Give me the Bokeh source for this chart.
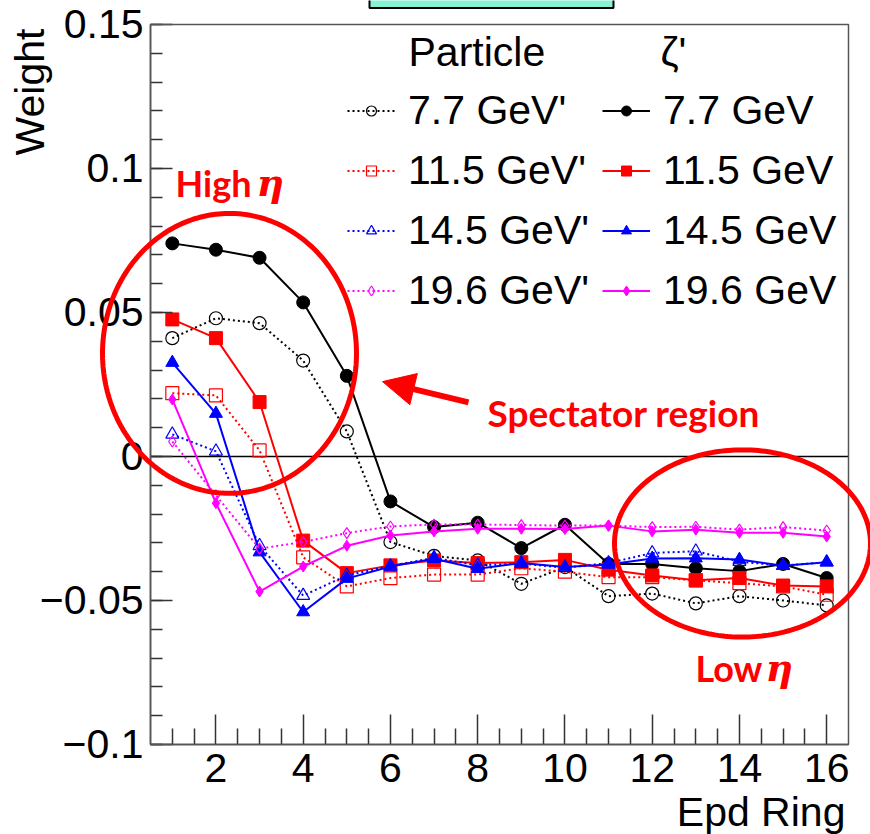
import numpy as np
from bokeh.plotting import figure
from bokeh.models import (Range1d, FixedTicker, Label, Legend, LegendItem,
                          PolyAnnotation, Arrow, NormalHead)
from bokeh.embed import file_html
from bokeh.resources import INLINE

# ---------------- data ----------------
rings = list(range(1, 17))

w77_zeta = [0.0740, 0.0718, 0.0690, 0.0535, 0.0280, -0.0156, -0.0245, -0.0230,
            -0.0318, -0.0237, -0.0373, -0.0373, -0.0388, -0.0398, -0.0373, -0.0422]
w77_part = [0.0411, 0.0480, 0.0463, 0.0333, 0.0087, -0.0297, -0.0345, -0.0361,
            -0.0442, -0.0384, -0.0485, -0.0476, -0.0510, -0.0485, -0.0500, -0.0517]
w115_zeta = [0.0476, 0.0411, 0.0189, -0.0292, -0.0405, -0.0378, -0.0361, -0.0370,
             -0.0367, -0.0359, -0.0393, -0.0413, -0.0430, -0.0422, -0.0448, -0.0451]
w115_part = [0.0220, 0.0212, 0.0021, -0.0350, -0.0451, -0.0422, -0.0410, -0.0410,
             -0.0388, -0.0400, -0.0419, -0.0419, -0.0430, -0.0440, -0.0451, -0.0480]
w145_zeta = [0.0326, 0.0149, -0.0332, -0.0540, -0.0424, -0.0382, -0.0355, -0.0390,
             -0.0370, -0.0384, -0.0375, -0.0354, -0.0353, -0.0358, -0.0379, -0.0367]
w145_part = [0.0077, 0.0018, -0.0310, -0.0483, -0.0413, -0.0380, -0.0352, -0.0378,
             -0.0372, -0.0386, -0.0370, -0.0335, -0.0329, -0.0365, -0.0379, -0.0367]
w196_zeta = [0.0198, -0.0162, -0.0469, -0.0382, -0.0310, -0.0274, -0.0260, -0.0251,
             -0.0251, -0.0252, -0.0240, -0.0260, -0.0254, -0.0265, -0.0265, -0.0278]
w196_part = [0.0052, -0.0135, -0.0320, -0.0297, -0.0266, -0.0243, -0.0236, -0.0236,
             -0.0238, -0.0240, -0.0240, -0.0245, -0.0244, -0.0254, -0.0245, -0.0257]

energies = ["7.7 GeV", "11.5 GeV", "14.5 GeV", "19.6 GeV"]
colors = ["#000000", "#ff0000", "#0000ff", "#ff00ff"]
zeta_series = [w77_zeta, w115_zeta, w145_zeta, w196_zeta]
part_series = [w77_part, w115_part, w145_part, w196_part]
markers = ["circle", "square", "triangle", "diamond"]

x_ticks = [2, 4, 6, 8, 10, 12, 14, 16]
x_minor = [1, 1.5, 2.5, 3, 3.5, 4.5, 5, 5.5, 6.5, 7, 7.5, 8.5, 9, 9.5, 10.5, 11, 11.5,
           12.5, 13, 13.5, 14.5, 15, 15.5]
y_ticks = [-0.1, -0.05, 0, 0.05, 0.1, 0.15]
y_tick_labels = ["\u22120.1", "\u22120.05", "0", "0.05", "0.1", "0.15"]
y_minor = [round(-0.1 + 0.01 * k, 2) for k in range(26)]

# axis box (histogram frame) and visible canvas extent in data units
X_LO, X_HI = 0.5, 16.5
Y_LO, Y_HI = -0.1, 0.15
CANVAS_X = (-2.9384, 17.0043)
CANVAS_Y = (-0.13125, 0.158333)

FONT = "Liberation Sans"
FS = "41px"

# ---------------- figure ----------------
p = figure(width=870, height=834, output_backend="svg", toolbar_location=None,
           x_range=Range1d(*CANVAS_X), y_range=Range1d(*CANVAS_Y),
           min_border=0)
p.xgrid.visible = False
p.ygrid.visible = False
p.outline_line_color = None
p.background_fill_color = "white"
p.border_fill_color = "white"

# frame box
p.add_layout(PolyAnnotation(xs=[X_LO, X_HI, X_HI, X_LO], ys=[Y_LO, Y_LO, Y_HI, Y_HI],
                            fill_alpha=0, line_color="#555555", line_alpha=1,
                            line_width=1.5))

p.xaxis.fixed_location = Y_LO
p.yaxis.fixed_location = X_LO
p.xaxis.bounds = (X_LO, X_HI)
p.yaxis.bounds = (Y_LO, Y_HI)
p.xaxis.ticker = FixedTicker(ticks=x_ticks, minor_ticks=x_minor)
p.yaxis.ticker = FixedTicker(ticks=y_ticks, minor_ticks=y_minor)
p.yaxis.major_label_overrides = dict(zip(y_ticks, y_tick_labels))
for ax in (p.xaxis[0], p.yaxis[0]):
    ax.major_tick_out = 0
    ax.minor_tick_out = 0
    ax.axis_line_color = "#333333"
    ax.axis_line_width = 1.5
    ax.major_tick_line_color = "#333333"
    ax.minor_tick_line_color = "#333333"
    ax.major_tick_line_width = 1.5
    ax.minor_tick_line_width = 1.5
    ax.major_label_text_font = FONT
    ax.major_label_text_font_size = FS
    ax.major_label_text_color = "black"
p.xaxis.major_tick_in = 30
p.xaxis.minor_tick_in = 16
p.xaxis.major_label_standoff = 10
p.yaxis.major_tick_in = 22
p.yaxis.minor_tick_in = 12
p.yaxis.major_label_standoff = 7

# zero line
p.line([X_LO, X_HI], [0, 0], line_color="black", line_width=1.5)

items_part = []
items_zeta = []
for e, c, ys_z, ys_p, m in zip(energies, colors, zeta_series, part_series, markers):
    sz_ = 13 if m != "diamond" else 11
    lp = p.line(rings, ys_p, line_color=c, line_width=2, line_dash="2 3")
    sp = p.scatter(rings, ys_p, marker=m, size=sz_, fill_alpha=0, line_color=c,
                   line_width=1.2)
    lz = p.line(rings, ys_z, line_color=c, line_width=2)
    sz = p.scatter(rings, ys_z, marker=m, size=sz_, fill_color=c, line_color=c)
    items_part.append(LegendItem(label=e + "'", renderers=[lp, sp]))
    items_zeta.append(LegendItem(label=e, renderers=[lz, sz]))

legend = Legend(items=items_part + items_zeta, location=(347, 520),
                orientation="vertical", nrows=4,
                label_text_font=FONT, label_text_font_size=FS, label_text_color="black",
                glyph_width=48, glyph_height=25, label_height=44,
                label_standoff=13, spacing=13, padding=0, margin=0,
                background_fill_alpha=0, border_line_alpha=0)
p.add_layout(legend)

# legend headers
p.add_layout(Label(x=6.414, y=0.1403, text="Particle", text_font=FONT, text_color="black",
                   text_font_size=FS, text_baseline="middle"))
p.add_layout(Label(x=12.19, y=0.1403, text="\u03b6'", text_font=FONT, text_color="black",
                   text_font_size=FS, text_baseline="middle"))

# axis titles
p.add_layout(Label(x=16.43, y=-0.1236, text="Epd Ring", text_font=FONT, text_color="black",
                   text_font_size=FS, text_align="right", text_baseline="middle"))
p.add_layout(Label(x=-2.251, y=0.1486, text="Weight", text_font=FONT, text_color="black",
                   text_font_size=FS, text_align="right", text_baseline="middle",
                   angle=np.pi / 2))

# header box (cut off at top)
p.add_layout(PolyAnnotation(xs=[5.52, 11.113, 11.113, 5.52], ys=[0.15573, 0.15573, 0.17, 0.17],
                            fill_color="#86f2d6", fill_alpha=1, line_color="black",
                            line_alpha=1, line_width=2))

# annotation ellipses
t = np.linspace(0, 2 * np.pi, 240)
p.add_layout(PolyAnnotation(xs=list(2.311 + 2.911 * np.cos(t)), ys=list(0.0358 + 0.0486 * np.sin(t)),
                            fill_alpha=0, line_color="#ff0000", line_alpha=1, line_width=5))
p.add_layout(PolyAnnotation(xs=list(14.07 + 2.934 * np.cos(t)), ys=list(-0.0302 + 0.0325 * np.sin(t)),
                            fill_alpha=0, line_color="#ff0000", line_alpha=1, line_width=5))

# arrow
p.add_layout(Arrow(end=NormalHead(size=32, fill_color="#ff0000", line_color="#ff0000"),
                   x_start=7.789, y_start=0.0188, x_end=5.818, y_end=0.0260,
                   line_color="#ff0000", line_width=6))

RED_FONT = "Lato"
p.add_layout(Label(x=1.073, y=0.0951, text="High", text_font=RED_FONT, text_font_style="bold",
                   text_font_size="36px", text_color="#ff0000", text_baseline="alphabetic"))
p.add_layout(Label(x=2.93, y=0.0951, text="\u03b7", text_font="DejaVu Serif",
                   text_font_style="bold italic", text_font_size="38px", text_color="#ff0000",
                   text_baseline="alphabetic"))
p.add_layout(Label(x=8.225, y=0.0153, text="Spectator region", text_font=RED_FONT,
                   text_font_style="bold", text_font_size="37px", text_color="#ff0000",
                   text_baseline="alphabetic"))
p.add_layout(Label(x=12.99, y=-0.0733, text="Low", text_font=RED_FONT, text_font_style="bold",
                   text_font_size="36px", text_color="#ff0000", text_baseline="alphabetic"))
p.add_layout(Label(x=14.6, y=-0.0733, text="\u03b7", text_font="DejaVu Serif",
                   text_font_style="bold italic", text_font_size="38px", text_color="#ff0000",
                   text_baseline="alphabetic"))

open("out.html", "w").write(file_html(p, INLINE))
